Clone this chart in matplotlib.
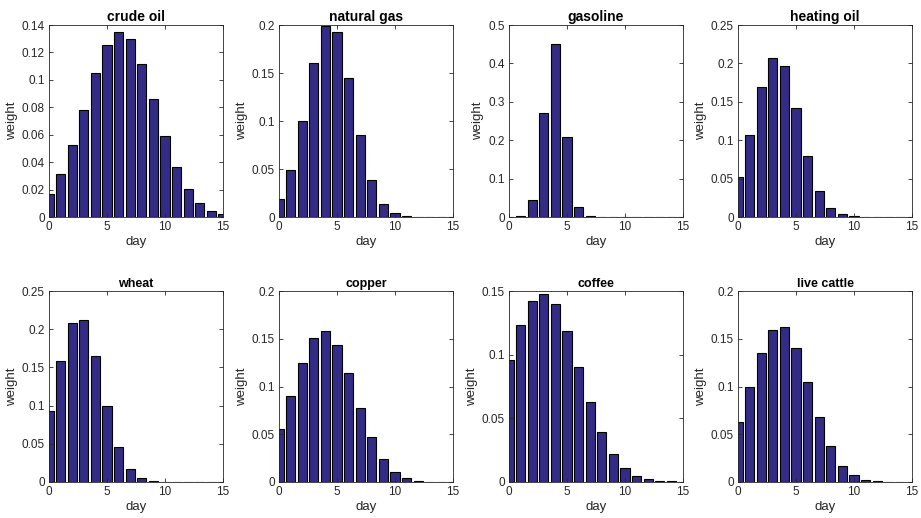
import matplotlib
matplotlib.use("Agg")
import matplotlib.pyplot as plt
import numpy as np
from matplotlib.ticker import FormatStrFormatter

plt.rcParams['font.family'] = ['Liberation Sans', 'DejaVu Sans']

# ── Data ──────────────────────────────────────────────────────────────────────
DAYS = np.arange(16)

TITLES = ['crude oil', 'natural gas', 'gasoline', 'heating oil',
          'wheat', 'copper', 'coffee', 'live cattle']

crude_oil   = [0.017, 0.0315, 0.0524, 0.0783, 0.1049, 0.1256, 0.1349, 0.1295,
               0.1112, 0.0859, 0.059, 0.0363, 0.0202, 0.0102, 0.0046, 0.002]
natural_gas = [0.0186, 0.049, 0.1004, 0.160, 0.1990, 0.193, 0.145, 0.085,
               0.0386, 0.014, 0.004, 0.0012, 0.0003, 0.0001, 0.0001, 0.0001]
gasoline    = [0.0, 0.003, 0.045, 0.2705, 0.450, 0.2077, 0.027, 0.0015,
               0.0, 0.0, 0.0, 0.0, 0.0, 0.0, 0.0, 0.0]
heating_oil = [0.0519, 0.1065, 0.169, 0.207, 0.196, 0.142, 0.080, 0.0345,
               0.0118, 0.0035, 0.001, 0.0003, 0.0001, 0.0001, 0.0001, 0.0001]
wheat       = [0.0928, 0.158, 0.208, 0.2115, 0.1655, 0.100, 0.0464, 0.0166,
               0.0048, 0.0015, 0.0004, 0.0001, 0.0001, 0.0001, 0.0001, 0.0001]
copper      = [0.056, 0.090, 0.125, 0.151, 0.158, 0.1436, 0.1138, 0.078,
               0.0466, 0.0242, 0.0109, 0.0042, 0.0015, 0.0005, 0.0002, 0.0001]
coffee      = [0.0962, 0.123, 0.1419, 0.148, 0.1395, 0.1183, 0.0907, 0.063,
               0.039, 0.0223, 0.0113, 0.005, 0.0021, 0.001, 0.0004, 0.0002]
live_cattle = [0.0625, 0.0993, 0.1354, 0.1596, 0.1618, 0.1407, 0.1049, 0.0684,
               0.0372, 0.0172, 0.007, 0.0025, 0.0008, 0.0003, 0.0001, 0.0001]

SERIES = [crude_oil, natural_gas, gasoline, heating_oil,
          wheat, copper, coffee, live_cattle]

YMAX  = [0.14, 0.2, 0.5, 0.25, 0.25, 0.2, 0.15, 0.2]
YSTEP = [0.02, 0.05, 0.1, 0.05, 0.05, 0.05, 0.05, 0.05]

# ── Layout ────────────────────────────────────────────────────────────────────
W, H = 921, 518
LEFTS = [49, 279, 509, 738]
AX_W = 174
ROWS = [(25, 217), (291, 482)]     # (top, bottom) pixel rows

BAR_COL = '#332b85'
TXT_COL = '#262626'

fig = plt.figure(figsize=(W / 100, H / 100), dpi=100)

for i, (title, vals) in enumerate(zip(TITLES, SERIES)):
    r, c = divmod(i, 4)
    top, bot = ROWS[r]
    ax = fig.add_axes([LEFTS[c] / W, (H - bot) / H, AX_W / W, (bot - top) / H])

    ax.bar(DAYS, vals, width=0.8, color=BAR_COL, edgecolor='black', lw=0.8)

    ax.set_xlim(0, 15)
    ax.set_ylim(0, YMAX[i])
    ax.set_xticks([0, 5, 10, 15])
    ax.set_yticks(np.arange(0, YMAX[i] + 1e-9, YSTEP[i]))
    ax.yaxis.set_major_formatter(FormatStrFormatter('%g'))

    ax.tick_params(direction='in', top=True, right=True, length=3,
                   width=0.6, labelsize=8.5, colors=TXT_COL, pad=3)
    for s in ax.spines.values():
        s.set_linewidth(0.6)
        s.set_color(TXT_COL)

    ax.set_title(title, fontsize=10 if r == 0 else 9, fontweight='bold',
                 pad=3, color='black')
    ax.set_xlabel('day', fontsize=9.5, color=TXT_COL, labelpad=2)
    ax.set_ylabel('weight', fontsize=9.5, color=TXT_COL, labelpad=3)

fig.savefig('out.png', dpi=100)
